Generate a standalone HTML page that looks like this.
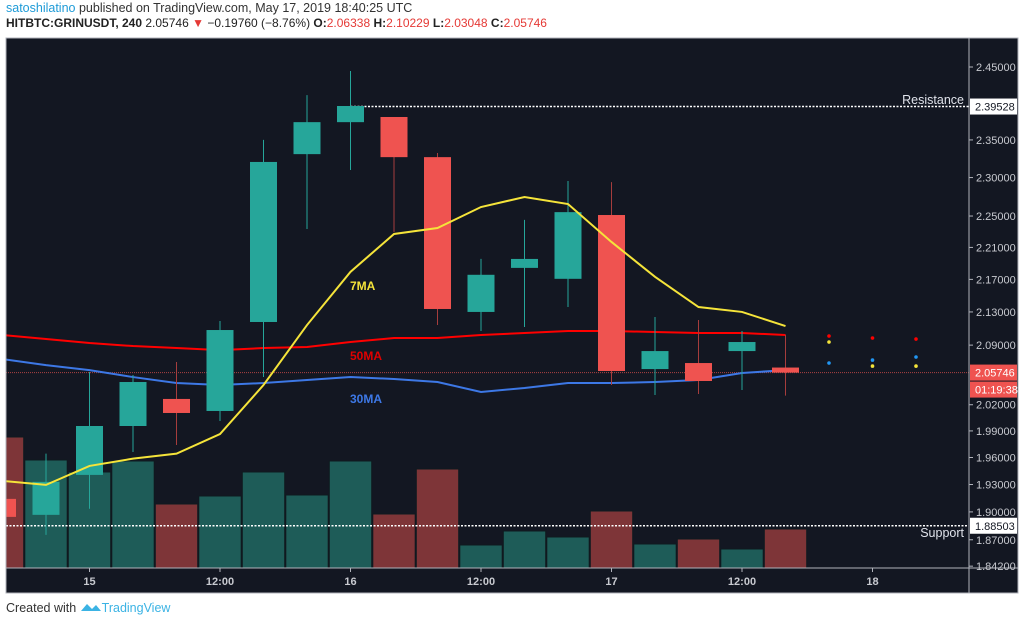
<!DOCTYPE html>
<html><head><meta charset="utf-8"><style>
body{margin:0;width:1024px;height:625px;background:#fff;font-family:"Liberation Sans",sans-serif;overflow:hidden;position:relative}
.h1{position:absolute;left:6px;top:1px;font-size:12.5px;color:#333}
.h2{position:absolute;left:6px;top:16px;font-size:12px;color:#222;font-weight:bold}
.r{color:#e53935}
.foot{position:absolute;left:6px;top:601px;font-size:12.5px;color:#333}
</style></head><body>
<div class="h1"><span style="color:#1e9bd7">satoshilatino</span> published on TradingView.com, May 17, 2019 18:40:25 UTC</div>
<div class="h2">HITBTC:GRINUSDT, 240 <span style="font-weight:normal">2.05746</span> <span class="r">▼</span> <span style="font-weight:normal">−0.19760 (−8.76%)</span> O:<span class="r" style="font-weight:normal">2.06338</span> H:<span class="r" style="font-weight:normal">2.10229</span> L:<span class="r" style="font-weight:normal">2.03048</span> C:<span class="r" style="font-weight:normal">2.05746</span></div>
<svg id="chart" style="position:absolute;left:0;top:0" width="1024" height="625"></svg>
<div class="foot">Created with <svg width="22" height="12" viewBox="0 0 22 12" style="vertical-align:-1px"><path d="M1 10 L7 3 L12 8 L16 4 L21 10 Z" fill="#3bb3e4"/></svg><span style="color:#3bb3e4">TradingView</span></div>
<script>
const opens=[1.9142,1.8968,1.9406,1.9956,2.0267,2.0128,2.1178,2.331,2.374,2.381,2.327,2.13,2.1843,2.1707,2.2513,2.0616,2.0687,2.0829,2.06338];
const highs=[1.9185,1.9643,2.0581,2.0546,2.0699,2.119,2.35,2.411,2.4444,2.381,2.3325,2.1955,2.245,2.2955,2.294,2.1238,2.1202,2.1069,2.10229];
const lows=[1.8913,1.8752,1.9034,1.9662,1.9741,2.0013,2.0522,2.2334,2.31,2.2296,2.1141,2.1069,2.1117,2.136,2.0429,2.0313,2.0325,2.0371,2.03048];
const closes=[1.8946,1.9329,1.9956,2.0464,2.0105,2.1081,2.3206,2.374,2.396,2.327,2.1336,2.1757,2.1955,2.255,2.0593,2.0829,2.0476,2.0937,2.05746];
const volumes=[131,108,96,107,64,72,96,73,107,54,99,23,37,31,57,24,29,19,39];
const ma7=[1.934,1.9296,1.9506,1.9587,1.9643,1.9865,2.0429,2.1141,2.1794,2.227,2.2346,2.2616,2.2746,2.2655,2.2169,2.1732,2.136,2.13,2.1129];
const ma50=[2.1021,2.0973,2.0925,2.0889,2.0865,2.0841,2.0865,2.0877,2.0937,2.0985,2.0985,2.1021,2.1045,2.1069,2.1069,2.1057,2.1045,2.1045,2.1021];
const ma30=[2.0734,2.0663,2.0604,2.0522,2.0452,2.0429,2.0452,2.0487,2.0522,2.0499,2.0464,2.0348,2.0394,2.0452,2.0452,2.0464,2.0487,2.0569,2.0604];
const futIdx=[19,20,21];
const fut50=[2.1009,2.0985,2.0973];
const fut30=[2.0687,2.0722,2.0758];
const fut7=[2.0937,2.0651,2.0651];
const priceTicks=[2.45,2.35,2.30,2.25,2.21,2.17,2.13,2.09,2.02,1.99,1.96,1.93,1.90,1.87,1.842];
const priceTickLabels=["2.45000","2.35000","2.30000","2.25000","2.21000","2.17000","2.13000","2.09000","2.02000","1.99000","1.96000","1.93000","1.90000","1.87000","1.84200"];
const timeIdx=[2,5,8,11,14,17,20];
const timeLabels=["15","12:00","16","12:00","17","12:00","18"];
const resistance=2.39528, support=1.88503, lastPrice=2.05746;

const L=6,R=969,T=38,B=568,FB=593,FR=1018;
const X=i=>2.5+43.5*i;
const Y=p=>67-1750*Math.log(p/2.45);
const VY=v=>B-v/140*140;
const svg=document.getElementById('chart');const NS='http://www.w3.org/2000/svg';
function el(t,a,parent){const e=document.createElementNS(NS,t);for(const k in a)e.setAttribute(k,a[k]);(parent||svg).appendChild(e);return e;}
let bg=el('rect',{x:L,y:T,width:FR-L,height:FB-T,fill:'#131722',stroke:'#b0b3bb','stroke-width':1});


el('defs',{}).innerHTML='<clipPath id="cp"><rect x="6.5" y="38.5" width="962" height="529"/></clipPath>';
const g=el('g',{'clip-path':'url(#cp)'});


volumes.forEach((v,i)=>{const up=closes[i]>=opens[i];
 const r=el('rect',{x:X(i)-21.2,y:VY(v),width:42.4,height:B-VY(v),fill:up?'#1e5c58':'#7e3538',stroke:'#0f1a1f','stroke-width':1},g);
 
 });
let sl=el('line',{x1:L,x2:R,y1:Y(support),y2:Y(support),stroke:'#fff','stroke-dasharray':'2,1.5','stroke-width':1.5},g);


let rl=el('line',{x1:X(8),x2:R,y1:Y(resistance),y2:Y(resistance),stroke:'#fff','stroke-dasharray':'2,1.5','stroke-width':1.5},g);


let pl=el('line',{x1:L,x2:R,y1:Y(lastPrice),y2:Y(lastPrice),stroke:'#ef5350','stroke-dasharray':'1,1','stroke-width':1,opacity:0.7},g);


function line(arr,col,name){const pts=arr.map((p,i)=>X(i)+','+Y(p)).join(' ');
 const e=el('polyline',{points:pts,fill:'none',stroke:col,'stroke-width':2},g);
 
 }
line(ma50,'#ff0000','ma50-line');line(ma30,'#3d78e6','ma30-line');
opens.forEach((o,i)=>{const c=closes[i],up=c>=o,col=up?'#26a69a':'#ef5350';
 const w=el('line',{x1:X(i),x2:X(i),y1:Y(highs[i]),y2:Y(lows[i]),stroke:up?'#26a69a':'#a63d3d','stroke-width':1},g);
 
 
 const top=Math.min(Y(o),Y(c)),h=Math.max(1,Math.abs(Y(o)-Y(c)));
 const b=el('rect',{x:X(i)-13.5,y:top,width:27,height:h,fill:col},g);
 
 });
line(ma7,'#f5e43a','ma7-line');
futIdx.forEach((k,j)=>{[[fut50[j],'#ff0000'],[fut30[j],'#2196f3'],[fut7[j],'#f5e43a']].forEach(([p,c])=>{
 const d=el('circle',{cx:X(k),cy:Y(p),r:1.8,fill:c},g);
 
 });});
function txt(x,y,s,col,size,anchor,name,w){const t=el('text',{x:x,y:y,fill:col,'font-size':size,'text-anchor':anchor||'start','font-family':'Liberation Sans, sans-serif','font-weight':w||'normal'});t.textContent=s;
 
 return t;}
txt(350,290,'7MA','#f5e43a',12,'start','ma7-label','bold');
txt(350,360,'50MA','#e00000',12,'start','ma50-label','bold');
txt(350,403,'30MA','#3d78e6',12,'start','ma30-label','bold');
txt(964,104,'Resistance','#e0e3eb',12.5,'end','resistance-label');
txt(964,537,'Support','#e0e3eb',12.5,'end','support-label');
el('line',{x1:R,x2:R,y1:T,y2:FB,stroke:'#b0b3bb','stroke-width':1});
el('line',{x1:L,x2:FR,y1:B,y2:B,stroke:'#b0b3bb','stroke-width':1});
priceTicks.forEach((p,i)=>{el('line',{x1:R,x2:R+4,y1:Y(p),y2:Y(p),stroke:'#b0b3bb'});
 txt(976,Y(p)+4,priceTickLabels[i],'#c8cad0',11,'start','price-tick-label');});
function box(p,dy,s,bgc,fg,name){const y=Y(p)+dy;
 const r=el('rect',{x:R+1,y:y-8,width:FR-R-2,height:16,fill:bgc});
 
 
 txt(975,y+4,s,fg,11,'start',name);}
box(resistance,0,'2.39528','#fff','#131722','resistance-price-label');
box(support,0,'1.88503','#fff','#131722','support-price-label');
box(lastPrice,0,'2.05746','#ef5350','#fff','last-price-label');
box(lastPrice,17,'01:19:38','#ef5350','#fff','countdown-label');
timeIdx.forEach((k,i)=>{el('line',{x1:X(k),x2:X(k),y1:B,y2:B+4,stroke:'#b0b3bb'});
 txt(X(k),585,timeLabels[i],'#c8cad0',11,'middle','time-tick-label','bold');});
</script>
</body></html>
